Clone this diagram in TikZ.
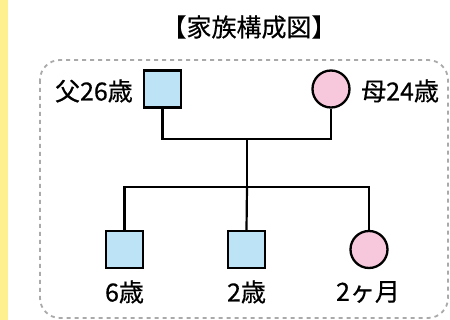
\documentclass[tikz,border=0pt]{standalone}
\usepackage{fontspec}
\setmainfont[FakeBold=0.4]{Noto Sans CJK JP}
\begin{document}
\begin{tikzpicture}[x=1pt,y=-1pt,
  male/.style={draw=black,line width=2.3pt,fill=boyblue,minimum size=37pt,inner sep=0pt},
  female/.style={circle,draw=black,line width=2.3pt,fill=girlpink,minimum size=37pt,inner sep=0pt},
  lbl/.style={font=\fontsize{25}{29}\selectfont,inner sep=0pt},
  link/.style={draw=black,line width=2.2pt,line join=miter}]
\definecolor{boyblue}{HTML}{BDE3F7}
\definecolor{girlpink}{HTML}{F7C8DC}
\definecolor{frame}{HTML}{AAAAAA}
\definecolor{strip}{HTML}{FFF08F}
\useasboundingbox (0,0) rectangle (450,320);
\fill[white] (0,0) rectangle (450,320);
\fill[strip] (0,0) rectangle (8,320);
\draw[frame,line width=1.8pt,dash pattern=on 4pt off 4pt,rounded corners=20pt] (40,60) rectangle (448,318);
\node[lbl] (title) at (249,27) {【家族構成図】};
\node[male] (dad) at (162.5,89) {};
\node[female] (mom) at (331,89) {};
\node[lbl,anchor=east] (dadl) at (133,91) {父26歳};
\node[lbl,anchor=west] (moml) at (361,91) {母24歳};
\node[male] (c1) at (124.5,249.5) {};
\node[male] (c2) at (246.5,249.5) {};
\node[female] (c3) at (369,249.5) {};
\node[lbl] (c1l) at (124.5,292) {6歳};
\node[lbl] (c2l) at (246.5,292) {2歳};
\node[lbl] (c3l) at (368,292) {2ヶ月};
\coordinate (mid) at (247,139);
\coordinate (bar) at (247,187);
\draw[link] (dad.south) |- (mid) -| (mom.south);
\draw[link] (mid) -- (bar);
\draw[link] (c1.north) |- (bar) -| (c3.north);
\draw[link] (bar) -- (c2.north);
\end{tikzpicture}
\end{document}
